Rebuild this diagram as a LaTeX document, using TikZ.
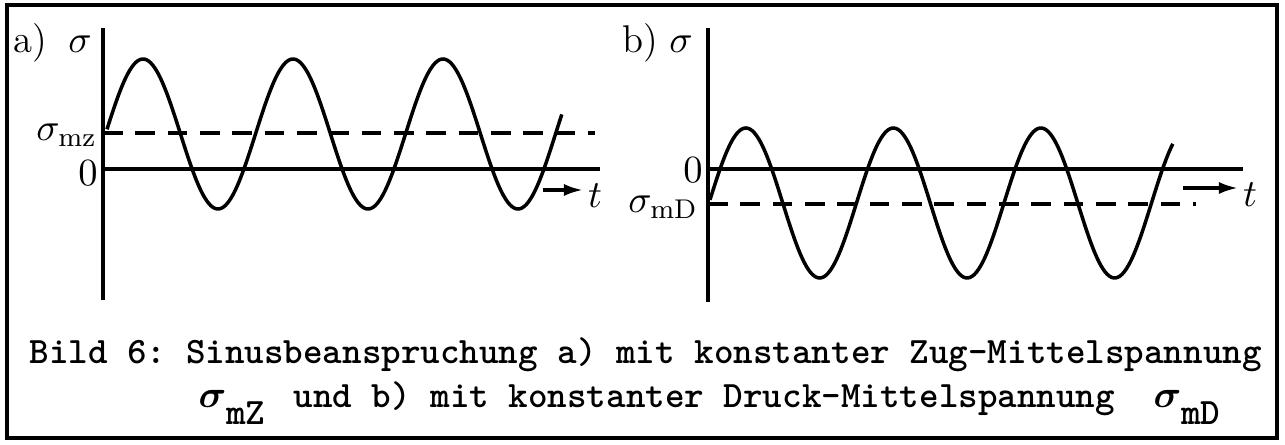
\documentclass[tikz,border=0pt]{standalone}
\usepackage{amsmath}
\usepackage{fontspec}
\usetikzlibrary{arrows.meta}

\begin{document}
\frenchspacing
\begin{tikzpicture}[x=1cm,y=1cm,line width=.9pt,font=\fontsize{11}{13}\selectfont,
  curve/.style={line width=1pt,smooth,samples=220},
  midline/.style={line width=1pt,dash pattern=on 5.6pt off 3.6pt},
  tarrow/.style={line width=.9pt,-{Latex[length=1.9mm,width=1.2mm]}},
  capline/.style={anchor=base west,inner sep=0pt,
    font=\fontsize{10.6}{12}\selectfont\ttfamily\bfseries}]
\useasboundingbox (0,0) rectangle (12.85,4.45);
\draw[line width=1pt] (0.07,0.07) rectangle (12.77,4.40);
% a) Zug-Mittelspannung
\draw (1.03,4.17)--(1.03,1.45);\draw[line width=1.3pt] (1.03,2.76)--(6.00,2.76);
\draw[midline] (1.03,3.12)--(5.95,3.12);
\draw[curve,domain=1.07:5.62] plot (\x,{3.11+0.75*sin(240*(\x-1.055))});
\node (la) at (0.30,4.02) {a)};\node (sa) at (0.80,4.01) {$\sigma$};
\node[anchor=east,inner sep=1pt] (mz) at (1.02,3.10) {$\sigma_{\mathrm{mz}}$};
\node (na) at (0.88,2.72) {$0$};
\coordinate (ta0) at (5.43,2.55);\node[inner sep=1pt] (ta) at (5.95,2.49) {$t$};
\draw[tarrow] (ta0)--(ta0 -| ta.west);
% b) Druck-Mittelspannung
\draw (7.08,4.17)--(7.08,1.43);\draw[line width=1.3pt] (7.08,2.76)--(12.43,2.76);
\draw[midline] (7.08,2.41)--(11.96,2.41);
\draw[curve,domain=7.10:11.73] plot (\x,{2.42+0.75*sin(244.07*(\x-7.09))});
\node (lb) at (6.40,4.02) {b)};\node (sb) at (6.81,4.01) {$\sigma$};
\node[anchor=east,inner sep=1pt] (md) at (7.03,2.38) {$\sigma_{\mathrm{mD}}$};
\node (nb) at (6.93,2.75) {$0$};
\coordinate (tb0) at (11.83,2.57);\node[inner sep=1pt] (tb) at (12.50,2.50) {$t$};
\draw[tarrow] (tb0)--(tb0 -| tb.west);
% Bildunterschrift
\node[capline] (cap1) at (0.28,0.81) {Bild 6: Sinusbeanspruchung a) mit konstanter Zug-Mittelspannung};
\node[capline] (cz) at (1.97,0.37) {$\boldsymbol{\sigma}$\raisebox{-.45em}{mZ}};
\node[capline] (cap2) at (2.92,0.37) {und b) mit konstanter Druck-Mittelspannung};
\node[capline] (cd) at (11.52,0.37) {$\boldsymbol{\sigma}$\raisebox{-.45em}{mD}};
\end{tikzpicture}
\end{document}
